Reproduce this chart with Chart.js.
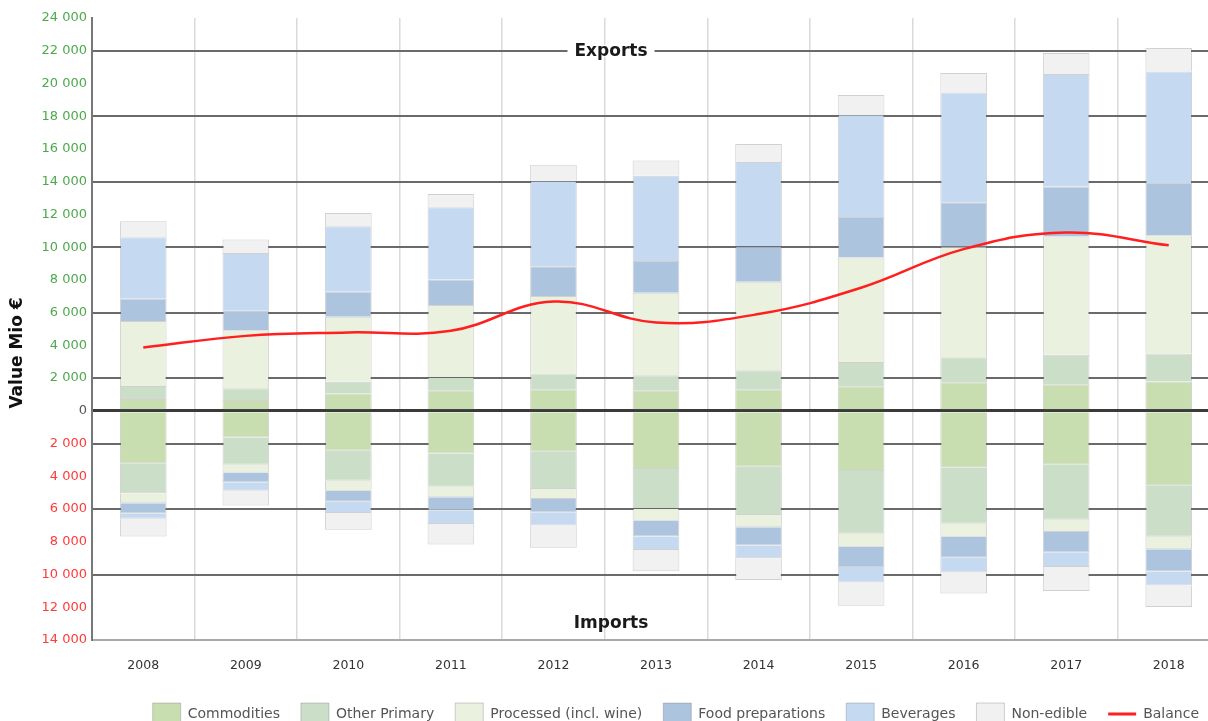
<!DOCTYPE html>
<html>
<head>
<meta charset="utf-8">
<script src="https://cdn.jsdelivr.net/npm/chart.js@4.4.0/dist/chart.umd.min.js"></script>
<style>
html, body { margin: 0; padding: 0; background: #fff; overflow: hidden; }
#caixa { width: 1222px; height: 735px; }
</style>
</head>
<body>
<div id="caixa"><canvas id="chart1" width="1222" height="735"></canvas></div>
<script>
// anos e valores (Mio €)
const anos = ['2008', '2009', '2010', '2011', '2012', '2013', '2014', '2015', '2016', '2017', '2018'];

// exportações (positivas)
const expCommodities = [730, 670, 1060, 1260, 1320, 1260, 1320, 1510, 1740, 1630, 1790];
const expOutrosPrim = [790, 710, 710, 810, 960, 920, 1160, 1470, 1530, 1800, 1710];
const expProcessados = [3970, 3540, 3980, 4390, 4730, 5040, 5410, 6390, 6770, 7220, 7220];
const expPreparados = [1360, 1220, 1530, 1570, 1830, 1930, 2170, 2480, 2710, 3050, 3200];
const expBebidas = [3750, 3510, 4000, 4410, 5220, 5220, 5140, 6250, 6700, 6880, 6810];
const expNaoComest = [990, 820, 810, 810, 980, 920, 1100, 1190, 1190, 1280, 1430];

// importações (negativas)
const impCommodities = [-3230, -1630, -2440, -2600, -2500, -3560, -3410, -3670, -3450, -3270, -4570];
const impOutrosPrim = [-1810, -1660, -1830, -2030, -2270, -2440, -2950, -3840, -3450, -3380, -3120];
const impProcessados = [-610, -470, -610, -650, -610, -710, -750, -790, -790, -750, -770];
const impPreparados = [-610, -610, -670, -820, -820, -970, -1120, -1240, -1290, -1240, -1350];
const impBebidas = [-340, -510, -690, -810, -810, -820, -770, -950, -900, -900, -860];
const impNaoComest = [-1080, -910, -1030, -1260, -1360, -1300, -1330, -1420, -1280, -1460, -1310];

// saldo
const saldo = [3870, 4580, 4790, 4890, 6680, 5400, 5910, 7520, 9880, 10900, 10110];

const nomes = ['Commodities', 'Other Primary', 'Processed (incl. wine)', 'Food preparations', 'Beverages', 'Non-edible'];
const cores = ['#c8deb1', '#cbdfc8', '#ebf1df', '#adc4df', '#c5d9f1', '#f1f1f1'];

const fonte = 'DejaVu Sans';

function fmt(v) {
    return String(Math.abs(v)).replace(/\B(?=(\d{3})+(?!\d))/g, ' ');
}

function barra(label, data, cor, lado) {
    return {
        type: 'bar',
        label: label,
        data: data,
        lado: lado,
        backgroundColor: cor,
        borderColor: 'rgba(90,90,90,0.28)',
        borderWidth: 1,
        categoryPercentage: 1,
        barPercentage: 0.455,
        stack: 'comercio',
        order: 1
    };
}

const exportacoes = [expCommodities, expOutrosPrim, expProcessados, expPreparados, expBebidas, expNaoComest];
const importacoes = [impCommodities, impOutrosPrim, impProcessados, impPreparados, impBebidas, impNaoComest];

const datasets = [];
exportacoes.forEach((d, i) => datasets.push(barra(nomes[i], d, cores[i], 'exp')));
importacoes.forEach((d, i) => datasets.push(barra(nomes[i], d, cores[i], 'imp')));
datasets.push({
    type: 'line',
    label: 'Balance',
    data: saldo,
    borderColor: '#ff1f1f',
    backgroundColor: 'rgba(0,0,0,0)',
    borderWidth: 2.5,
    pointRadius: 0,
    tension: 0.4,
    stack: 'saldo',
    order: -1
});

// textos Exports / Imports e título do eixo y
const rotulos = {
    id: 'rotulos',
    afterDraw(chart) {
        const ctx = chart.ctx;
        const y = chart.scales.y;
        const cx = chart.width / 2;
        ctx.save();
        ctx.font = 'bold 17px ' + fonte;
        ctx.textAlign = 'center';
        ctx.textBaseline = 'middle';
        const yExp = y.getPixelForValue(22000);
        const w = ctx.measureText('Exports').width + 14;
        ctx.fillStyle = '#fff';
        ctx.fillRect(cx - w / 2, yExp - 6, w, 12);
        ctx.fillStyle = '#1a1a1a';
        ctx.fillText('Exports', cx, yExp + 1);
        ctx.fillText('Imports', cx, y.getPixelForValue(-13000));

        // linha do saldo na legenda
        const leg = chart.legend;
        leg.legendItems.forEach((item, i) => {
            if (item.text === 'Balance') {
                const hb = leg.legendHitBoxes[i];
                ctx.strokeStyle = '#ff1f1f';
                ctx.lineWidth = 3;
                ctx.beginPath();
                ctx.moveTo(hb.left, hb.top + hb.height / 2);
                ctx.lineTo(hb.left + 28, hb.top + hb.height / 2);
                ctx.stroke();
            }
        });

        ctx.translate(18, 353);
        ctx.rotate(-Math.PI / 2);
        ctx.font = 'bold 17px ' + fonte;
        ctx.fillStyle = '#111';
        ctx.fillText('Value Mio €', 0, 0);
        ctx.restore();
    }
};

new Chart(document.getElementById('chart1').getContext('2d'), {
    data: { labels: anos, datasets: datasets },
    plugins: [rotulos],
    options: {
        responsive: false,
        animation: false,
        layout: { padding: { top: 18, right: 2, left: 0, bottom: 0 } },
        plugins: {
            tooltip: { enabled: false },
            legend: {
                position: 'bottom',
                align: 'end',
                labels: {
                    boxWidth: 28,
                    boxHeight: 22,
                    padding: 21,
                    color: '#555',
                    font: { family: fonte, size: 14 },
                    filter: (item, data) => data.datasets[item.datasetIndex].lado !== 'imp',
                    sort: (a, b) => a.datasetIndex - b.datasetIndex,
                    generateLabels: (chart) => {
                        const itens = Chart.defaults.plugins.legend.labels.generateLabels(chart);
                        itens.forEach(it => {
                            if (it.text === 'Balance') {
                                it.fillStyle = 'rgba(0,0,0,0)';
                                it.strokeStyle = 'rgba(0,0,0,0)';
                            }
                        });
                        return itens;
                    }
                }
            }
        },
        scales: {
            x: {
                stacked: true,
                grid: { color: '#dadada', lineWidth: 1.5, drawTicks: false, offset: true },
                border: { display: true, color: '#aaa', width: 2 },
                ticks: { color: '#333', padding: 18, font: { family: fonte, size: 12.5 } },
                afterFit: (scale) => { scale.height = 42; }
            },
            y: {
                stacked: true,
                min: -14000,
                max: 24000,
                border: { display: true, color: '#777', width: 2 },
                grid: {
                    drawTicks: false,
                    color: (c) => {
                        const v = c.tick.value;
                        if (v === 0) return '#3a3a3a';
                        if (v === -14000 || v === 24000) return 'rgba(0,0,0,0)';
                        return (v - 2000) % 4000 === 0 ? '#6a6a6a' : 'rgba(0,0,0,0)';
                    },
                    lineWidth: (c) => (c.tick.value === 0 ? 3 : 2)
                },
                ticks: {
                    stepSize: 2000,
                    padding: 5,
                    font: { family: fonte, size: 13 },
                    color: (c) => (c.tick.value > 0 ? '#4caa4c' : (c.tick.value < 0 ? '#ff3a3a' : '#555')),
                    callback: (v) => fmt(v)
                },
                afterFit: (scale) => { scale.width = 92; }
            }
        }
    }
});
</script>
</body>
</html>
